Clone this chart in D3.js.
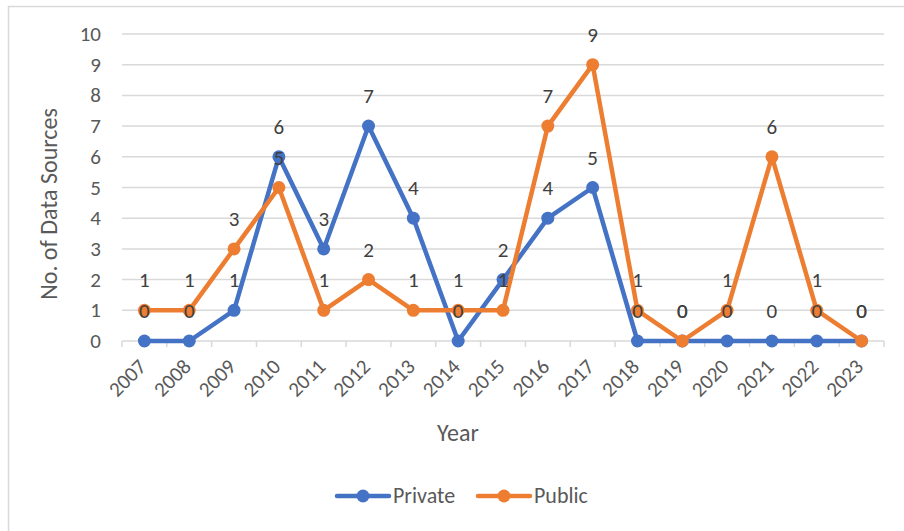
<!DOCTYPE html>
<html>
<head>
<meta charset="utf-8">
<script src="https://cdn.jsdelivr.net/npm/d3@7"></script>
<style>
body{margin:0;background:#fff;}
text{font-family:Calibri,Carlito,"Open Sans","Liberation Sans",sans-serif;}
</style>
</head>
<body>
<svg id="chart" width="904" height="531"></svg>
<script>
var years = ["2007","2008","2009","2010","2011","2012","2013","2014","2015","2016","2017","2018","2019","2020","2021","2022","2023"];
var privateVals = [0,0,1,6,3,7,4,0,2,4,5,0,0,0,0,0,0];
var publicVals  = [1,1,3,5,1,2,1,1,1,7,9,1,0,1,6,1,0];
var yTicks = [0,1,2,3,4,5,6,7,8,9,10];
var seriesNames = ["Private","Public"];
var colors = ["#4472C4","#ED7D31"];

var svg = d3.select('#chart');
var plotL = 122, plotR = 884, plotT = 34, plotB = 341;

// chart border
svg.append('rect')
    .attr('x',8.5).attr('y',6.5).attr('width',904).attr('height',540)
    .attr('fill','none').attr('stroke','#d9d9d9').attr('stroke-width',1.5);

var x = d3.scaleBand().domain(years).range([plotL,plotR]);
var y = d3.scaleLinear().domain([0,10]).range([plotB,plotT]);

// gridlines
svg.selectAll('.grid').data(yTicks.slice(1)).enter().append('line')
    .attr('x1',plotL).attr('x2',plotR)
    .attr('y1',function(d){return y(d);}).attr('y2',function(d){return y(d);})
    .attr('stroke','#d9d9d9').attr('stroke-width',1.5);

// y tick labels
svg.selectAll('.ylab').data(yTicks).enter().append('text')
    .attr('x',101).attr('y',function(d){return y(d)+7;})
    .attr('text-anchor','end').attr('font-size',21).attr('fill','#595959')
    .text(function(d){return d;});

// x axis line and ticks
svg.append('line').attr('x1',plotL).attr('x2',plotR).attr('y1',plotB).attr('y2',plotB)
    .attr('stroke','#d9d9d9').attr('stroke-width',1.5);
var bounds = years.map(function(d){return x(d);}).concat([plotR]);
svg.selectAll('.xtick').data(bounds).enter().append('line')
    .attr('x1',function(d){return d;}).attr('x2',function(d){return d;})
    .attr('y1',plotB).attr('y2',plotB+6)
    .attr('stroke','#d9d9d9').attr('stroke-width',1.5);

// x tick labels
svg.selectAll('.xlab').data(years).enter().append('text')
    .attr('transform',function(d){
        return 'translate('+(x(d)+x.bandwidth()/2+3)+','+(plotB+27)+') rotate(-45)';
    })
    .attr('text-anchor','end').attr('font-size',21).attr('fill','#595959')
    .text(function(d){return d;});

// axis titles
svg.append('text')
    .attr('transform','translate(57,204) rotate(-90)')
    .attr('text-anchor','middle').attr('font-size',24).attr('fill','#595959')
    .text('No. of Data Sources');
svg.append('text')
    .attr('x',458).attr('y',441)
    .attr('text-anchor','middle').attr('font-size',24).attr('fill','#595959')
    .text('Year');

var cx = function(d,i){return x(years[i])+x.bandwidth()/2;};
var line = d3.line().x(cx).y(function(d){return y(d);});

[privateVals,publicVals].forEach(function(vals,si){
    var g = svg.append('g');
    g.append('path').datum(vals).attr('d',line)
        .attr('fill','none').attr('stroke',colors[si]).attr('stroke-width',4.5)
        .attr('stroke-linejoin','round');
    g.selectAll('circle').data(vals).enter().append('circle')
        .attr('cx',cx).attr('cy',function(d){return y(d);})
        .attr('r',6.5).attr('fill',colors[si]);
});

// data labels (drawn after both series)
[privateVals,publicVals].forEach(function(vals,si){
    svg.append('g').selectAll('text').data(vals).enter().append('text')
        .attr('x',cx).attr('y',function(d){return y(d)-23;})
        .attr('text-anchor','middle').attr('font-size',21).attr('fill','#404040')
        .text(function(d){return d;});
});

// legend
var legX = [337,478];
seriesNames.forEach(function(name,i){
    var lg = svg.append('g');
    lg.append('line').attr('x1',legX[i]).attr('x2',legX[i]+52)
        .attr('y1',496).attr('y2',496)
        .attr('stroke',colors[i]).attr('stroke-width',4.5).attr('stroke-linecap','round');
    lg.append('circle').attr('cx',legX[i]+26).attr('cy',496).attr('r',6.5).attr('fill',colors[i]);
    lg.append('text').attr('x',legX[i]+56).attr('y',503)
        .attr('font-size',22).attr('fill','#595959').text(name);
});
</script>
</body>
</html>
